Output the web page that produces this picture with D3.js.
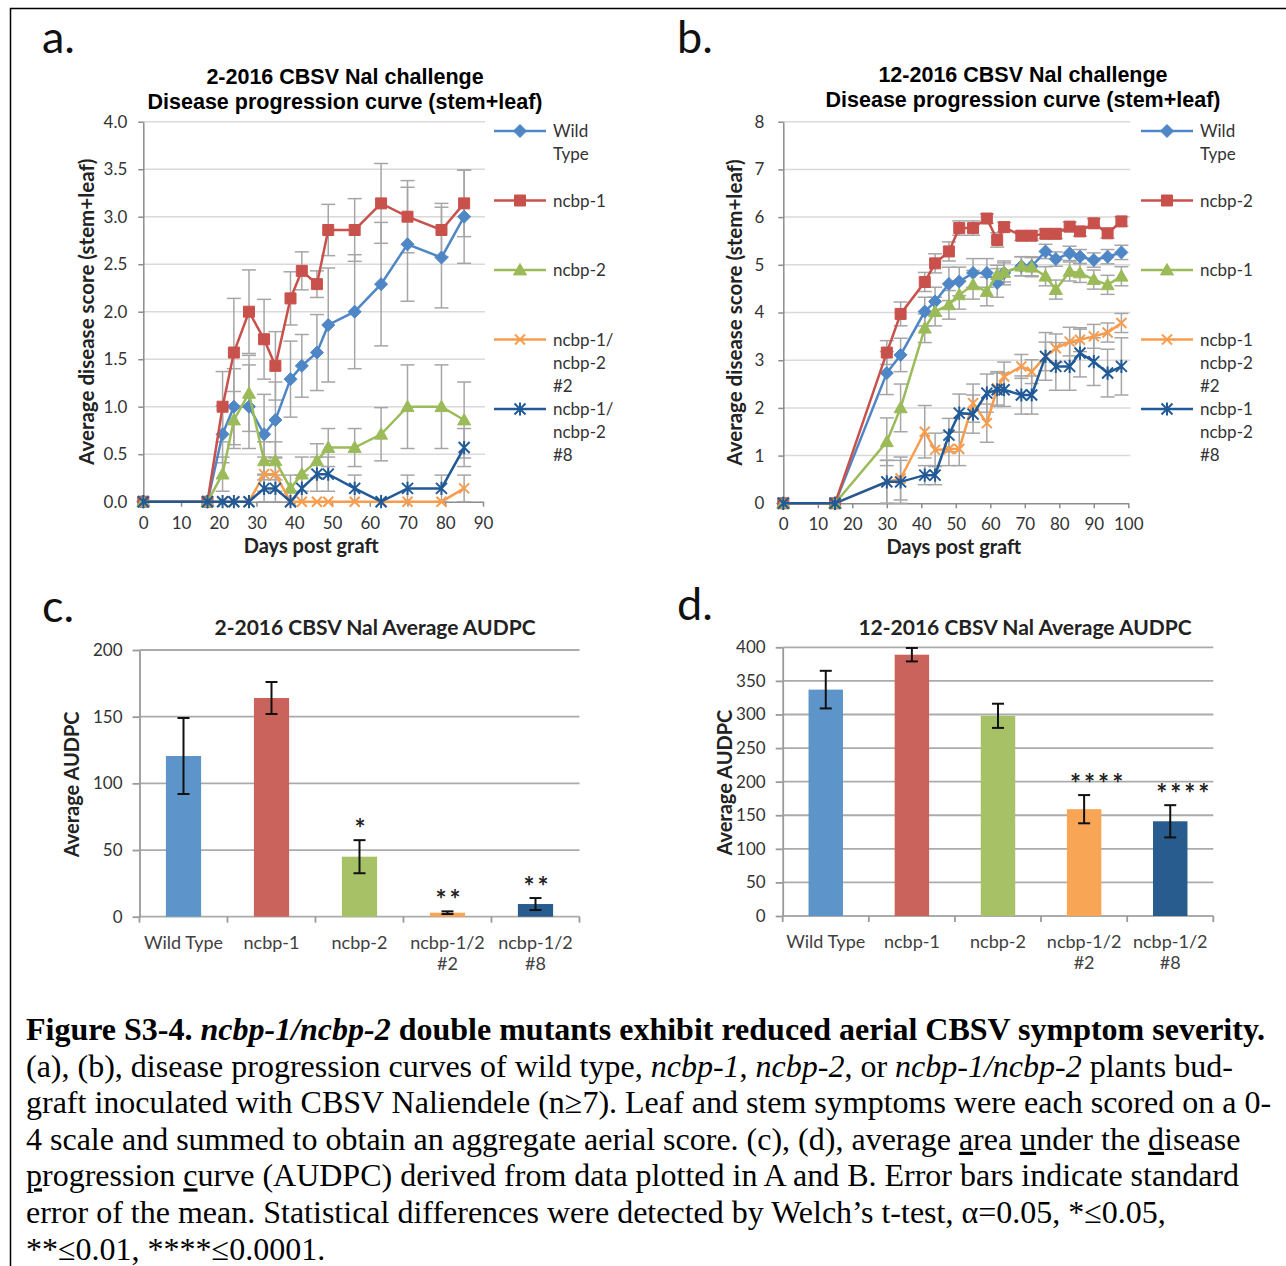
<!DOCTYPE html>
<html>
<head>
<meta charset="utf-8">
<script src="https://cdn.jsdelivr.net/npm/d3@7"></script>
<style>
  body { margin: 0; background: #fff; }
  text { font-family: Lato, "Open Sans", sans-serif; }
</style>
</head>
<body>
<div class="fig"></div>
<script>
// ---- panel a : 2-2016 disease progression ----
var daysA = [0, 17, 21, 24, 28, 32, 35, 39, 42, 46, 49, 56, 63, 70, 79, 85];
var wtA     = [0, 0, 0.71, 1.0, 1.0, 0.71, 0.86, 1.29, 1.43, 1.57, 1.86, 2.0, 2.29, 2.71, 2.57, 3.0];
var wtAErr  = [0, 0, 0.30, 0.40, 0.44, 0.42, 0.40, 0.40, 0.33, 0.40, 0.60, 0.60, 0.65, 0.60, 0.53, 0.49];
var n1A     = [0, 0, 1.0, 1.57, 2.0, 1.71, 1.43, 2.14, 2.43, 2.29, 2.86, 2.86, 3.14, 3.0, 2.86, 3.14];
var n1AErr  = [0, 0, 0.37, 0.57, 0.44, 0.42, 0.36, 0.28, 0.20, 0.14, 0.27, 0.33, 0.42, 0.38, 0.28, 0.35];
var n2A     = [0, 0, 0.29, 0.86, 1.14, 0.43, 0.43, 0.14, 0.29, 0.43, 0.57, 0.57, 0.71, 1.0, 1.0, 0.86];
var n2AErr  = [0, 0, 0.18, 0.30, 0.40, 0.20, 0.20, 0.14, 0.18, 0.18, 0.20, 0.20, 0.28, 0.44, 0.44, 0.40];
var dm2A    = [0, 0, 0, 0, 0, 0.29, 0.29, 0, 0, 0, 0, 0, 0, 0, 0, 0.14];
var dm2AErr = [0, 0, 0, 0, 0, 0.18, 0.18, 0, 0, 0, 0, 0, 0, 0, 0, 0.14];
var dm8A    = [0, 0, 0, 0, 0, 0.14, 0.14, 0, 0.14, 0.29, 0.29, 0.14, 0, 0.14, 0.14, 0.57];
var dm8AErr = [0, 0, 0, 0, 0, 0.14, 0.14, 0, 0.14, 0.18, 0.18, 0.14, 0, 0.14, 0.14, 0.20];
var legendA = [['Wild', 'Type'], ['ncbp-1'], ['ncbp-2'], ['ncbp-1/', 'ncbp-2', '#2'], ['ncbp-1/', 'ncbp-2', '#8']];

// ---- panel b : 12-2016 disease progression ----
var daysB = [0, 15, 30, 34, 41, 44, 48, 51, 55, 59, 62, 64, 69, 72, 76, 79, 83, 86, 90, 94, 98];
var wtB     = [0, 0, 2.73, 3.11, 4.02, 4.23, 4.60, 4.65, 4.83, 4.83, 4.62, 4.83, 4.97, 4.97, 5.28, 5.12, 5.24, 5.17, 5.10, 5.17, 5.26];
var wtBErr  = [0, 0, 0.45, 0.35, 0.30, 0.30, 0.35, 0.30, 0.30, 0.30, 0.30, 0.25, 0.20, 0.20, 0.15, 0.15, 0.15, 0.15, 0.15, 0.15, 0.15];
var n2B     = [0, 0, 3.16, 3.97, 4.64, 5.03, 5.28, 5.77, 5.77, 5.97, 5.52, 5.79, 5.61, 5.61, 5.65, 5.65, 5.80, 5.70, 5.87, 5.66, 5.91];
var n2BErr  = [0, 0, 0.25, 0.25, 0.20, 0.20, 0.20, 0.15, 0.15, 0.10, 0.15, 0.10, 0.10, 0.10, 0.10, 0.10, 0.10, 0.10, 0.10, 0.10, 0.10];
var n1B     = [0, 0, 1.29, 2.0, 3.67, 4.02, 4.16, 4.37, 4.58, 4.44, 4.79, 4.84, 4.97, 4.95, 4.76, 4.48, 4.86, 4.83, 4.69, 4.58, 4.76];
var n1BErr  = [0, 0, 0.50, 0.50, 0.30, 0.30, 0.30, 0.30, 0.30, 0.30, 0.20, 0.20, 0.20, 0.20, 0.20, 0.20, 0.20, 0.20, 0.20, 0.20, 0.20];
var dm2B    = [0, 0, 0.45, 0.52, 1.50, 1.12, 1.14, 1.14, 2.10, 1.68, 2.41, 2.66, 2.87, 2.76, 3.08, 3.25, 3.39, 3.43, 3.50, 3.58, 3.78];
var dm2BErr = [0, 0, 0.45, 0.45, 0.55, 0.35, 0.35, 0.35, 0.40, 0.40, 0.35, 0.30, 0.25, 0.25, 0.30, 0.30, 0.30, 0.25, 0.25, 0.20, 0.20];
var dm8B    = [0, 0, 0.45, 0.45, 0.59, 0.59, 1.43, 1.89, 1.87, 2.31, 2.38, 2.38, 2.27, 2.27, 3.08, 2.87, 2.87, 3.15, 2.97, 2.73, 2.87];
var dm8BErr = [0, 0, 0.45, 0.45, 0.20, 0.20, 0.35, 0.40, 0.40, 0.40, 0.35, 0.35, 0.40, 0.40, 0.50, 0.50, 0.50, 0.50, 0.50, 0.50, 0.60];
var legendB = [['Wild', 'Type'], ['ncbp-2'], ['ncbp-1'], ['ncbp-1', 'ncbp-2', '#2'], ['ncbp-1', 'ncbp-2', '#8']];

// ---- panels c, d : AUDPC bars ----
var barLabels = [['Wild Type'], ['ncbp-1'], ['ncbp-2'], ['ncbp-1/2', '#2'], ['ncbp-1/2', '#8']];
var audpcC    = [120.5, 164, 45, 3, 9.5];
var audpcCErr = [28.5, 12, 12.4, 1, 4.5];
var starsC    = ['', '', '*', '**', '**'];
var audpcD    = [337, 389, 298, 159, 141];
var audpcDErr = [28, 10, 18, 21, 24];
var starsD    = ['', '', '', '****', '****'];

var col = {wt: '#4F87C6', red: '#C9514C', green: '#9BBB59', orange: '#F89C4E', navy: '#215A96'};
var barColors = ['#5D94CA', '#CB635D', '#A7C266', '#F9A556', '#285B8E'];

var svg = d3.select('div.fig').append('svg')
    .attr('width', 1286)
    .attr('height', 1266)

// frame
svg.append('path')
    .attr('d', 'M10.5,1266 V8.5 H1286')
    .attr('fill', 'none')
    .attr('stroke', '#000')
    .attr('stroke-width', 1.5)

function markerPath(type, r){
    if(type == 'diamond') return 'M0,' + (-r) + 'L' + r + ',0L0,' + r + 'L' + (-r) + ',0Z'
    if(type == 'square') return 'M' + (-r) + ',' + (-r) + 'H' + r + 'V' + r + 'H' + (-r) + 'Z'
    if(type == 'triangle') return 'M0,' + (-r) + 'L' + r + ',' + (r * 0.75) + 'H' + (-r) + 'Z'
    if(type == 'x') return 'M' + (-r) + ',' + (-r) + 'L' + r + ',' + r + 'M' + (-r) + ',' + r + 'L' + r + ',' + (-r)
    return 'M' + (-r) + ',' + (-r) + 'L' + r + ',' + r + 'M' + (-r) + ',' + r + 'L' + r + ',' + (-r) + 'M0,' + (-r * 1.2) + 'V' + (r * 1.2)
}
function drawMarker(sel, type, color){
    var r = {diamond: 6.5, square: 5.5, triangle: 6.5, x: 5, asterisk: 5.5}[type]
    sel.attr('d', markerPath(type, r))
    if(type == 'x' || type == 'asterisk'){
        sel.attr('fill', 'none').attr('stroke', color).attr('stroke-width', 2)
    } else {
        sel.attr('fill', color).attr('stroke', color).attr('stroke-width', 1)
    }
}

function styleAxis(g, size){
    g.select('.domain').attr('stroke', '#8C8C8C').attr('stroke-width', 1.5)
    g.selectAll('.tick line').attr('stroke', '#8C8C8C').attr('stroke-width', 1.5)
    g.selectAll('.tick text').attr('font-size', size).attr('fill', '#333')
        .style('font-family', 'Lato, sans-serif')
}

function lineChart(cfg){
    var g = svg.append('g')
    var x = d3.scaleLinear().domain([0, cfg.xMax]).range([cfg.x0, cfg.x1])
    var y = d3.scaleLinear().domain([0, cfg.yMax]).range([cfg.y0, cfg.y1])
    var yt = d3.range(0, cfg.yMax + 1e-9, cfg.yStep)

    g.selectAll('line.grid').data(yt.slice(1)).enter().append('line')
        .attr('x1', cfg.x0).attr('x2', cfg.x1 + 2)
        .attr('y1', function(d){return y(d)}).attr('y2', function(d){return y(d)})
        .attr('stroke', '#D9D9D9').attr('stroke-width', 1.5)

    g.append('g').attr('transform', 'translate(' + cfg.x0 + ',0)')
        .call(d3.axisLeft(y).tickValues(yt).tickFormat(cfg.fmt).tickSize(5).tickSizeOuter(0).tickPadding(cfg.yPad))
        .call(styleAxis, '17px')
    g.append('g').attr('transform', 'translate(0,' + cfg.y0 + ')')
        .call(d3.axisBottom(x).tickValues(d3.range(0, cfg.xMax + 1, 10)).tickSize(5).tickSizeOuter(0).tickPadding(10))
        .call(styleAxis, '17px')

    // error bars first
    cfg.series.forEach(function(s){
        var eg = g.append('g').attr('stroke', '#A6A6A6').attr('stroke-width', 1.5)
        s.vals.forEach(function(v, i){
            var e = s.err[i]
            if(!e) return
            var cx = x(cfg.days[i])
            var lo = y(Math.max(0, v - e)), hi = y(v + e)
            eg.append('line').attr('x1', cx).attr('x2', cx).attr('y1', lo).attr('y2', hi)
            eg.append('line').attr('x1', cx - 7).attr('x2', cx + 7).attr('y1', lo).attr('y2', lo)
            eg.append('line').attr('x1', cx - 7).attr('x2', cx + 7).attr('y1', hi).attr('y2', hi)
        })
    })

    var line = d3.line().x(function(d, i){return x(cfg.days[i])}).y(function(d){return y(d)})
    cfg.series.forEach(function(s){
        g.append('path').datum(s.vals)
            .attr('d', line)
            .attr('fill', 'none')
            .attr('stroke', s.color)
            .attr('stroke-width', 2.5)
        g.selectAll(null).data(s.vals).enter().append('path')
            .attr('transform', function(d, i){return 'translate(' + x(cfg.days[i]) + ',' + y(d) + ')'})
            .each(function(){ drawMarker(d3.select(this), s.marker, s.color) })
    })

    // legend
    cfg.series.forEach(function(s, i){
        var ly = cfg.legY + i * 69.5
        var lg = g.append('g').attr('transform', 'translate(' + cfg.legX + ',' + ly + ')')
        lg.append('line').attr('x1', 0).attr('x2', 52).attr('stroke', s.color).attr('stroke-width', 2.5)
        lg.append('path').attr('transform', 'translate(26,0)').call(drawMarker, s.marker, s.color)
        lg.append('text')
            .attr('x', 59).attr('y', 6)
            .attr('font-size', '17px').attr('fill', '#333')
            .selectAll('tspan').data(cfg.legend[i]).enter().append('tspan')
            .attr('x', 59).attr('dy', function(d, j){return j ? 23 : 0})
            .text(function(d){return d})
    })

    // titles
    g.append('text').attr('x', cfg.titleX).attr('y', cfg.titleY)
        .attr('text-anchor', 'middle').attr('font-weight', 'bold').attr('font-size', '21.5px')
        .style('font-family', '"Liberation Sans", Arial, sans-serif')
        .selectAll('tspan').data(cfg.title).enter().append('tspan')
        .attr('x', cfg.titleX).attr('dy', function(d, j){return j ? 25 : 0})
        .text(function(d){return d})
    g.append('text')
        .attr('transform', 'translate(' + cfg.yLabX + ',' + ((cfg.y0 + cfg.y1) / 2) + ') rotate(-90)')
        .attr('text-anchor', 'middle').attr('font-weight', 'bold').attr('font-size', '20.5px').attr('fill', '#222')
        .text('Average disease score (stem+leaf)')
    g.append('text')
        .attr('x', (cfg.x0 + cfg.x1) / 2 - 2).attr('y', cfg.y0 + 51)
        .attr('text-anchor', 'middle').attr('font-weight', 'bold').attr('font-size', '20px').attr('fill', '#222')
        .text('Days post graft')
}

function barChart(cfg){
    var g = svg.append('g')
    var x = d3.scaleBand().domain(d3.range(cfg.vals.length)).range([cfg.x0, cfg.x1])
        .paddingInner(0.6).paddingOuter(0.3)
    var y = d3.scaleLinear().domain([0, cfg.yMax]).range([cfg.y0, cfg.y1])
    var yt = d3.range(0, cfg.yMax + 1e-9, cfg.yStep)

    g.selectAll('line.grid').data(yt).enter().append('line')
        .attr('x1', cfg.x0).attr('x2', cfg.x1)
        .attr('y1', function(d){return y(d)}).attr('y2', function(d){return y(d)})
        .attr('stroke', '#ABABAB').attr('stroke-width', 1.8)
    g.append('g').attr('transform', 'translate(' + cfg.x0 + ',0)')
        .call(d3.axisLeft(y).tickValues(yt).tickSize(7).tickSizeOuter(0).tickPadding(10))
        .call(styleAxis, '17px')
    g.selectAll('.domain, .tick line').attr('stroke', '#9A9A9A').attr('stroke-width', 1.8)

    // category boundary ticks along the base
    g.selectAll('line.ct').data(d3.range(cfg.vals.length + 1)).enter().append('line')
        .attr('x1', function(i){return cfg.x0 + i * x.step()}).attr('x2', function(i){return cfg.x0 + i * x.step()})
        .attr('y1', cfg.y0).attr('y2', cfg.y0 + 6)
        .attr('stroke', '#9A9A9A').attr('stroke-width', 1.8)

    g.selectAll('rect').data(cfg.vals).enter().append('rect')
        .attr('x', function(d, i){return x(i)})
        .attr('y', function(d){return y(d)})
        .attr('width', x.bandwidth())
        .attr('height', function(d){return cfg.y0 - y(d)})
        .attr('fill', function(d, i){return barColors[i]})

    var eg = g.append('g').attr('stroke', '#111').attr('stroke-width', 2)
    cfg.vals.forEach(function(v, i){
        var cx = x(i) + x.bandwidth() / 2
        var lo = y(v - cfg.err[i]), hi = y(v + cfg.err[i])
        eg.append('line').attr('x1', cx).attr('x2', cx).attr('y1', lo).attr('y2', hi)
        eg.append('line').attr('x1', cx - 6).attr('x2', cx + 6).attr('y1', lo).attr('y2', lo)
        eg.append('line').attr('x1', cx - 6).attr('x2', cx + 6).attr('y1', hi).attr('y2', hi)
    })

    g.selectAll('text.star').data(cfg.stars).enter().append('text')
        .attr('x', function(d, i){return x(i) + x.bandwidth() / 2 + cfg.starDx})
        .attr('y', function(d, i){return y(cfg.vals[i] + cfg.err[i]) - 2})
        .attr('text-anchor', 'middle').attr('font-size', '26px').attr('font-weight', 'bold').attr('fill', '#222')
        .attr('letter-spacing', '3px')
        .text(function(d){return d})

    g.selectAll('text.cat').data(barLabels).enter().append('text')
        .attr('font-size', '18px').attr('fill', '#404040').attr('text-anchor', 'middle')
        .attr('y', cfg.y0 + 32)
        .each(function(lines, i){
            d3.select(this).selectAll('tspan').data(lines).enter().append('tspan')
                .attr('x', x(i) + x.bandwidth() / 2)
                .attr('dy', function(d, j){return j ? 21 : 0})
                .text(function(d){return d})
        })

    g.append('text').attr('x', cfg.titleX).attr('y', cfg.titleY)
        .attr('text-anchor', 'middle').attr('font-weight', 'bold').attr('font-size', '21px').attr('fill', '#222')
        .text(cfg.title)
    g.append('text')
        .attr('transform', 'translate(' + cfg.yLabX + ',' + ((cfg.y0 + cfg.y1) / 2 + 1) + ') rotate(-90)')
        .attr('text-anchor', 'middle').attr('font-weight', 'bold').attr('font-size', '20px').attr('fill', '#222')
        .text('Average AUDPC')
}

lineChart({
    days: daysA, xMax: 90, yMax: 4, yStep: 0.5, fmt: d3.format('.1f'), yPad: 11,
    x0: 143.3, x1: 483, y0: 501.7, y1: 121.7,
    series: [
        {vals: wtA, err: wtAErr, color: col.wt, marker: 'diamond'},
        {vals: n1A, err: n1AErr, color: col.red, marker: 'square'},
        {vals: n2A, err: n2AErr, color: col.green, marker: 'triangle'},
        {vals: dm2A, err: dm2AErr, color: col.orange, marker: 'x'},
        {vals: dm8A, err: dm8AErr, color: col.navy, marker: 'asterisk'}
    ],
    legend: legendA, legX: 494, legY: 131,
    title: ['2-2016 CBSV Nal challenge', 'Disease progression curve (stem+leaf)'], titleX: 345, titleY: 84,
    yLabX: 94
})

lineChart({
    days: daysB, xMax: 100, yMax: 8, yStep: 1, fmt: d3.format('d'), yPad: 14,
    x0: 783.3, x1: 1128.3, y0: 503.3, y1: 121.7,
    series: [
        {vals: wtB, err: wtBErr, color: col.wt, marker: 'diamond'},
        {vals: n2B, err: n2BErr, color: col.red, marker: 'square'},
        {vals: n1B, err: n1BErr, color: col.green, marker: 'triangle'},
        {vals: dm2B, err: dm2BErr, color: col.orange, marker: 'x'},
        {vals: dm8B, err: dm8BErr, color: col.navy, marker: 'asterisk'}
    ],
    legend: legendB, legX: 1141, legY: 131,
    title: ['12-2016 CBSV Nal challenge', 'Disease progression curve (stem+leaf)'], titleX: 1023, titleY: 82,
    yLabX: 742
})

barChart({
    vals: audpcC, err: audpcCErr, stars: starsC, starDx: 2, yMax: 200, yStep: 50,
    x0: 139.5, x1: 579.5, y0: 916.7, y1: 650,
    title: '2-2016 CBSV Nal Average AUDPC', titleX: 375, titleY: 635, yLabX: 79
})

barChart({
    vals: audpcD, err: audpcDErr, stars: starsD, starDx: 14, yMax: 400, yStep: 50,
    x0: 782.7, x1: 1213.3, y0: 916, y1: 647.3,
    title: '12-2016 CBSV Nal Average AUDPC', titleX: 1025, titleY: 635, yLabX: 732
})

// panel letters
var letters = [['a.', 42, 53], ['b.', 677, 53], ['c.', 42, 622], ['d.', 677, 620]]
svg.selectAll('text.letter').data(letters).enter().append('text')
    .attr('x', function(d){return d[1]}).attr('y', function(d){return d[2]})
    .attr('font-size', '45px').attr('fill', '#111')
    .text(function(d){return d[0]})

// caption
var caption = [
    [['Figure S3-4. ', 'b'], ['ncbp-1/ncbp-2', 'bi'], [' double mutants exhibit reduced aerial CBSV symptom severity.', 'b']],
    [['(a), (b), disease progression curves of wild type, ', ''], ['ncbp-1', 'i'], [', ', ''], ['ncbp-2', 'i'], [', or ', ''], ['ncbp-1/ncbp-2', 'i'], [' plants bud-', '']],
    [['graft inoculated with CBSV Naliendele (n≥7). Leaf and stem symptoms were each scored on a 0-', '']],
    [['4 scale and summed to obtain an aggregate aerial score. (c), (d), average ', ''], ['a', 'u'], ['rea ', ''], ['u', 'u'], ['nder the ', ''], ['d', 'u'], ['isease', '']],
    [['p', 'u'], ['rogression ', ''], ['c', 'u'], ['urve (AUDPC) derived from data plotted in A and B. Error bars indicate standard', '']],
    [['error of the mean. Statistical differences were detected by Welch\u2019s t-test, \u03b1=0.05, *\u22640.05,', '']],
    [['**\u22640.01, ****\u22640.0001.', '']]
]
var capText = svg.append('g')
caption.forEach(function(segs, i){
    capText.append('text')
        .attr('x', 26).attr('y', 1040 + i * 36.6)
        .attr('font-size', '32px').attr('fill', '#000')
        .style('font-family', '"Liberation Serif", "Times New Roman", serif')
        .selectAll('tspan').data(segs).enter().append('tspan')
        .attr('font-weight', function(d){return d[1].indexOf('b') >= 0 ? 'bold' : 'normal'})
        .attr('font-style', function(d){return d[1].indexOf('i') >= 0 ? 'italic' : 'normal'})
        .attr('text-decoration', function(d){return d[1] == 'u' ? 'underline' : null})
        .text(function(d){return d[0]})
})
</script>
</body>
</html>
